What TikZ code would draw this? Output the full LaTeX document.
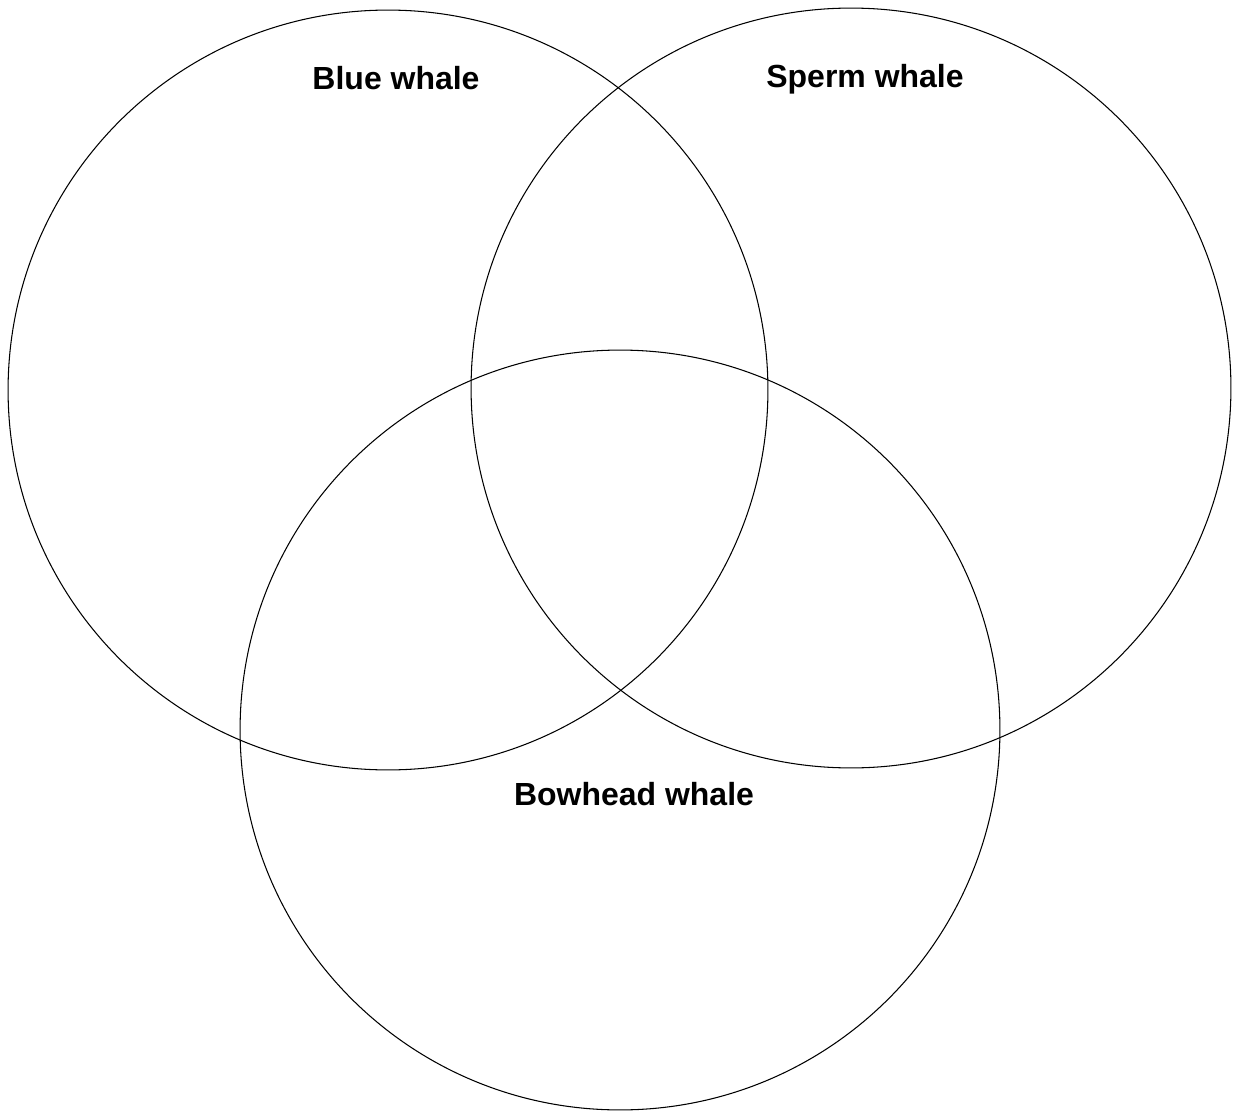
\documentclass[tikz,border=0pt]{standalone}
\usepackage{fontspec}
\setmainfont{Liberation Sans}
\usetikzlibrary{positioning}

\tikzset{
  setcircle/.style={draw=black,line width=0.6pt,circle,inner sep=0pt,minimum size=15.2cm},
  setlabel/.style={anchor=base,font=\fontsize{18.2}{20}\selectfont\bfseries}
}

\begin{document}
\begin{tikzpicture}[x=0.02cm,y=-0.02cm]
  \useasboundingbox (0,0) rectangle (1233,1111);
  % the three sets
  \node[setcircle] (blue) at (388,390) {};
  \node[setcircle] (sperm) at (851,388) {};
  \node[setcircle] (bowhead) at (620,730) {};
  % labels
  \node[setlabel] (bluelab) at (396,90) {Blue whale};
  \node[setlabel] (spermlab) at (865,88) {Sperm whale};
  \node[setlabel] (bowheadlab) at (634,805) {Bowhead whale};
\end{tikzpicture}
\end{document}
